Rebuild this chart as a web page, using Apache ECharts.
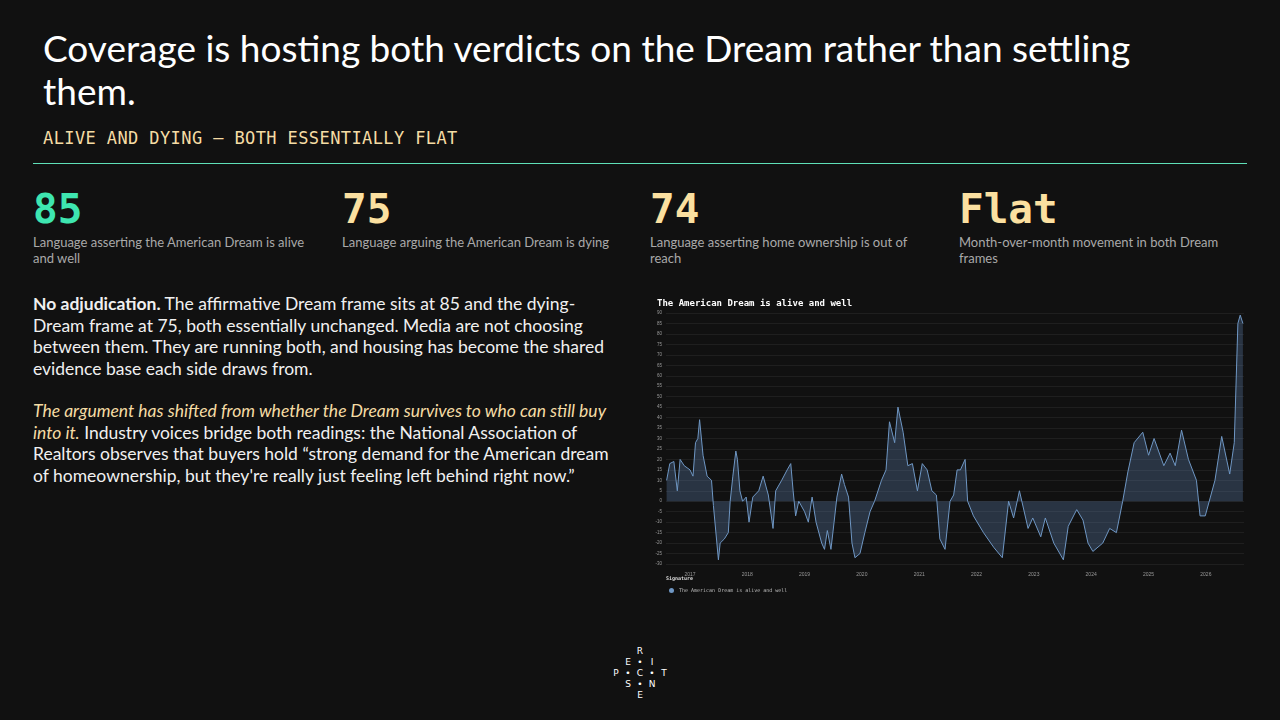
<!DOCTYPE html>
<html>
<head>
<meta charset="utf-8">
<script src="https://cdn.jsdelivr.net/npm/echarts@6/dist/echarts.min.js"></script>
<style>
  body { margin:0; width:1280px; height:720px; background:#111111; overflow:hidden; position:relative; font-family:Lato, "Open Sans", sans-serif; color:#fff; }
  .title { position:absolute; left:43px; top:26px; width:1180px; font-size:37px; line-height:43px; color:#fff; }
  .sub { position:absolute; left:43px; top:128px; font-family:"DejaVu Sans Mono", monospace; font-size:17px; color:#f5dca4; letter-spacing:0.4px; }
  .rule { position:absolute; left:33px; top:163px; width:1214px; height:1px; background:#5fe0b8; }
  .stat { position:absolute; top:186px; width:290px; }
  .stat .n { font-family:"DejaVu Sans Mono", monospace; font-weight:bold; font-size:41px; line-height:46px; }
  .stat .d { font-size:13px; line-height:16px; color:#a9a9a9; margin-top:2px; }
  .body { position:absolute; left:33px; top:293px; width:586px; font-size:17.5px; line-height:21.5px; color:#f0f0f0; }
  .body p { margin:0 0 21px 0; }
  #chart { position:absolute; left:648px; top:290px; width:600px; height:305px; }
  .logo { position:absolute; left:610px; top:646px; width:60px; font-family:"DejaVu Sans", sans-serif; font-size:9px; color:#fff; }
  .logo div { position:absolute; width:12px; text-align:center; }
</style>
</head>
<body>
<div class="title">Coverage is hosting both verdicts on the Dream rather than settling them.</div>
<div class="sub">ALIVE AND DYING — BOTH ESSENTIALLY FLAT</div>
<div class="rule"></div>
<div class="stat" style="left:33px"><div class="n" style="color:#3ee6b0">85</div><div class="d">Language asserting the American Dream is alive and well</div></div>
<div class="stat" style="left:342px"><div class="n" style="color:#fbe0a0">75</div><div class="d">Language arguing the American Dream is dying</div></div>
<div class="stat" style="left:650px"><div class="n" style="color:#fbe0a0">74</div><div class="d">Language asserting home ownership is out of reach</div></div>
<div class="stat" style="left:959px"><div class="n" style="color:#fbe0a0">Flat</div><div class="d">Month-over-month movement in both Dream frames</div></div>
<div class="body">
  <p><b>No adjudication.</b> The affirmative Dream frame sits at 85 and the dying-Dream frame at 75, both essentially unchanged. Media are not choosing between them. They are running both, and housing has become the shared evidence base each side draws from.</p>
  <p><i style="color:#f5dca4">The argument has shifted from whether the Dream survives to who can still buy into it.</i> Industry voices bridge both readings: the National Association of Realtors observes that buyers hold “strong demand for the American dream of homeownership, but they're really just feeling left behind right now.”</p>
</div>
<div id="chart"></div>
<div class="logo">
  <div style="left:24px;top:0">R</div>
  <div style="left:12px;top:11px">E</div><div style="left:24px;top:11px">•</div><div style="left:36px;top:11px">I</div>
  <div style="left:0;top:22px">P</div><div style="left:12px;top:22px">•</div><div style="left:24px;top:22px">C</div><div style="left:36px;top:22px">•</div><div style="left:48px;top:22px">T</div>
  <div style="left:12px;top:33px">S</div><div style="left:24px;top:33px">•</div><div style="left:36px;top:33px">N</div>
  <div style="left:24px;top:44px">E</div>
</div>
<script>
var dates = ['2016-08-05','2016-08-25','2016-09-20','2016-10-12','2016-10-30','2016-11-25','2017-01-01','2017-01-20','2017-02-05','2017-02-20','2017-03-03','2017-03-25','2017-04-20','2017-05-18','2017-05-30','2017-07-01','2017-07-12','2017-08-08','2017-09-02','2017-09-14','2017-10-01','2017-10-20','2017-10-30','2017-11-15','2017-12-02','2017-12-25','2018-01-12','2018-02-05','2018-03-15','2018-04-12','2018-05-15','2018-06-14','2018-07-01','2018-08-08','2018-09-12','2018-10-05','2018-10-20','2018-11-05','2018-11-25','2019-01-01','2019-01-25','2019-02-18','2019-03-15','2019-04-20','2019-05-08','2019-05-26','2019-06-18','2019-07-08','2019-07-26','2019-08-25','2019-09-12','2019-10-08','2019-10-30','2019-11-18','2019-12-20','2020-01-20','2020-02-22','2020-03-22','2020-05-05','2020-06-03','2020-06-25','2020-07-28','2020-08-18','2020-09-20','2020-10-20','2020-11-18','2020-12-20','2021-01-20','2021-02-20','2021-03-22','2021-04-20','2021-05-12','2021-06-14','2021-07-16','2021-08-08','2021-08-30','2021-09-20','2021-10-20','2021-11-05','2021-12-12','2022-02-14','2022-04-20','2022-06-14','2022-07-24','2022-08-25','2022-10-01','2022-11-25','2022-12-25','2023-02-14','2023-03-15','2023-05-08','2023-07-08','2023-08-08','2023-10-01','2023-11-10','2023-12-12','2024-01-12','2024-03-15','2024-04-28','2024-06-10','2024-07-20','2024-08-22','2024-10-01','2024-11-25','2025-01-01','2025-02-05','2025-04-08','2025-05-18','2025-06-20','2025-07-30','2025-09-12','2025-11-02','2025-11-25','2025-12-28','2026-02-28','2026-04-12','2026-06-02','2026-07-01','2026-07-24','2026-08-08','2026-08-25'];
var values = [10,18,19,5,20,17,15,12,28,30,39,22,12,10,-2,-28,-20,-18,-15,0,12,24,20,5,0,2,-10,2,5,12,3,-13,5,10,15,18,5,-7,0,-5,-10,2,-10,-20,-23,-14,-23,-10,2,13,8,2,-20,-27,-25,-15,-5,0,10,15,38,28,45,33,17,18,5,18,15,5,3,-18,-23,0,3,15,15,20,0,-7,-15,-22,-27,0,-8,5,-13,-8,-17,-8,-20,-28,-12,-4,-9,-20,-24,-20,-13,-15,0,14,28,33,22,30,17,23,17,34,20,10,-7,-7,10,31,13,28,85,89,85];
var seriesName = 'The American Dream is alive and well';

var chart = echarts.init(document.getElementById('chart'));
chart.setOption({
  animation: false,
  backgroundColor: 'transparent',
  title: { text: seriesName, left: 4, top: 4, textStyle: { color: '#fff', fontSize: 9, fontWeight: 'bold', fontFamily: 'DejaVu Sans Mono' } },
  grid: { left: 18, right: 4, top: 23, bottom: 31 },
  legend: {
    left: 16, top: 293, orient: 'vertical', itemWidth: 5, itemHeight: 5, icon: 'circle', itemGap: 2,
    textStyle: { color: '#bbb', fontSize: 5, fontFamily: 'DejaVu Sans Mono' },
    data: [seriesName]
  },
  graphic: [{ type: 'text', left: 18, top: 286, style: { text: 'Signature', fill: '#ddd', fontSize: 5, fontWeight: 'bold', fontFamily: 'DejaVu Sans Mono' } }],
  xAxis: {
    type: 'time', min: '2016-08-01', max: '2026-09-01',
    axisLine: { show: false }, axisTick: { show: false }, splitLine: { show: false },
    axisLabel: { color: '#999', fontSize: 5, formatter: '{yyyy}' }, splitNumber: 10
  },
  yAxis: {
    type: 'value', min: -30, max: 90, interval: 5,
    axisLabel: { color: '#999', fontSize: 4.5, margin: 4 },
    splitLine: { lineStyle: { color: '#2a2a2a', width: 0.6 } }
  },
  series: [{
    name: seriesName, type: 'line', symbol: 'none',
    data: dates.map(function (d, i) { return [d, values[i]]; }),
    lineStyle: { color: '#6f97c4', width: 1 },
    itemStyle: { color: '#6f97c4' },
    areaStyle: { color: 'rgba(95,130,175,0.45)', origin: 0 }
  }]
});
</script>
</body>
</html>
